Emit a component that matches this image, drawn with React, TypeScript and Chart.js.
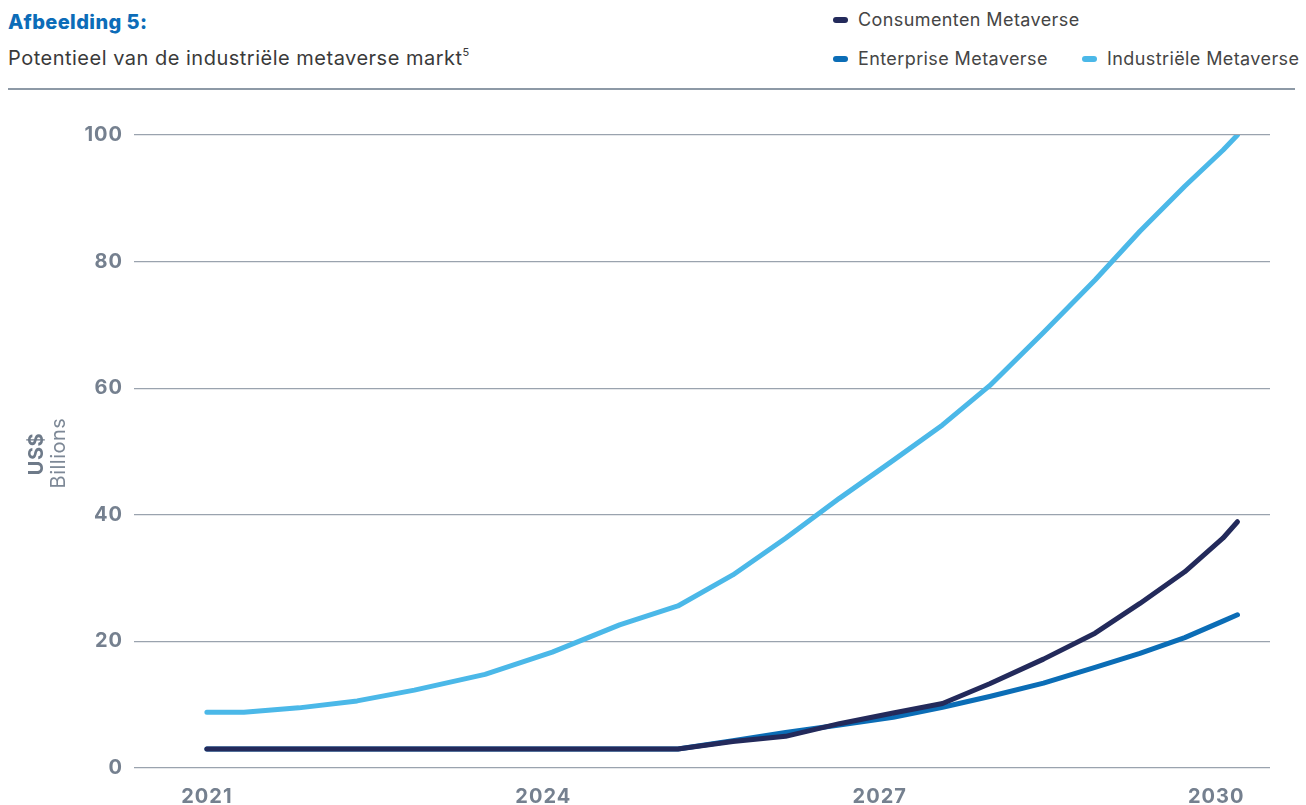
import React, { useEffect, useRef } from "react";
import { Chart, registerables } from "chart.js";

Chart.register(...registerables);

const years = [2021, 2021.33, 2021.82, 2022.34, 2022.85, 2023.48, 2024.08, 2024.68, 2025.2, 2025.69, 2026.16, 2026.64, 2027.12, 2027.56, 2027.98, 2028.46, 2028.92, 2029.32, 2029.72, 2030.06, 2030.19];
const industrial = [8.8, 8.8, 9.5, 10.6, 12.3, 14.8, 18.3, 22.6, 25.6, 30.5, 36.3, 42.6, 48.6, 54.2, 60.4, 68.8, 77.1, 84.8, 91.9, 97.6, 100];
const consumer = [3, 3, 3, 3, 3, 3, 3, 3, 3, 4.2, 5.0, 7.0, 8.7, 10.2, 13.3, 17.2, 21.3, 26.0, 31.0, 36.3, 38.9];
const enterprise = [3, 3, 3, 3, 3, 3, 3, 3, 3, 4.3, 5.6, 6.8, 8.0, 9.6, 11.3, 13.4, 15.9, 18.1, 20.6, 23.2, 24.2];
const xTicks = [2021, 2024, 2027, 2030];
const yTicks = [0, 20, 40, 60, 80, 100];

const seriesNames = ["Consumenten Metaverse", "Enterprise Metaverse", "Industriële Metaverse"];
const colors = ["#232A5B", "#0B6DB6", "#4BB8E8"];

const FONT = "Inter, 'Noto Sans', sans-serif";

export default function App() {
  const ref = useRef<HTMLCanvasElement>(null);

  useEffect(() => {
    if (!ref.current) return;
    const pts = (vals: number[]) => vals.map((v, i) => ({ x: years[i], y: v }));
    const spacing = {
      id: "spacing",
      beforeInit(chart: any) {
        chart.ctx.letterSpacing = "1px";
      },
      beforeDraw(chart: any) {
        chart.ctx.letterSpacing = "1px";
      },
    };
    const axisTitle = {
      id: "axisTitle",
      afterDraw(chart: any) {
        const ctx = chart.ctx;
        ctx.save();
        ctx.letterSpacing = "0.5px";
        ctx.translate(37, 454);
        ctx.rotate(-Math.PI / 2);
        ctx.textAlign = "center";
        ctx.textBaseline = "middle";
        ctx.fillStyle = "#6E7A89";
        ctx.font = "bold 20px " + FONT;
        ctx.fillText("US$", 0, 0);
        ctx.restore();
        ctx.save();
        ctx.letterSpacing = "0.5px";
        ctx.translate(59, 453);
        ctx.rotate(-Math.PI / 2);
        ctx.textAlign = "center";
        ctx.textBaseline = "middle";
        ctx.fillStyle = "#7D8896";
        ctx.font = "20px " + FONT;
        ctx.fillText("Billions", 0, 0);
        ctx.restore();
      },
    };
    const mk = (i: number, data: number[]) => ({
      label: seriesNames[i],
      data: pts(data),
      borderColor: colors[i],
      backgroundColor: colors[i],
      borderWidth: 5,
      borderCapStyle: "round" as const,
      borderJoinStyle: "round" as const,
      pointRadius: 0,
      tension: 0,
      fill: false,
    });
    const chart = new Chart(ref.current, {
      type: "line",
      data: {
        datasets: [mk(0, consumer), mk(1, enterprise), mk(2, industrial)],
      },
      plugins: [spacing, axisTitle],
      options: {
        responsive: false,
        animation: false,
        layout: { padding: { top: 135, right: 36, left: 0, bottom: 0 } },
        plugins: { legend: { display: false }, tooltip: { enabled: false } },
        scales: {
          x: {
            type: "linear",
            min: 2020.35,
            max: 2030.48,
            afterBuildTicks: (s: any) => {
              s.ticks = xTicks.map((v) => ({ value: v }));
            },
            afterFit: (s: any) => {
              s.height = 37;
            },
            grid: { display: false, drawTicks: false },
            border: { display: false },
            ticks: {
              padding: 17,
              color: "#75808F",
              font: { family: FONT, size: 20, weight: "bold" },
              callback: (v: any) => String(v),
              maxRotation: 0,
            },
          },
          y: {
            min: 0,
            max: 100,
            afterBuildTicks: (s: any) => {
              s.ticks = yTicks.map((v) => ({ value: v }));
            },
            afterFit: (s: any) => {
              s.width = 134;
            },
            grid: { color: "#9AA3AE", lineWidth: 1.2, drawTicks: false },
            border: { display: false },
            ticks: {
              padding: 11,
              color: "#75808F",
              font: { family: FONT, size: 20, weight: "bold" },
              callback: (v: any) => String(v),
            },
          },
        },
      },
    });
    return () => chart.destroy();
  }, []);

  const legendItem = (i: number, left: number, top: number) => (
    <div
      style={{
        position: "absolute",
        left,
        top,
        display: "flex",
        alignItems: "center",
        fontFamily: FONT,
        fontSize: 18,
        letterSpacing: 0.4,
        color: "#454545",
        whiteSpace: "nowrap",
        lineHeight: "22px",
      }}
    >
      <span
        style={{
          display: "inline-block",
          width: 15,
          height: 6,
          borderRadius: 3,
          background: colors[i],
          marginRight: 10,
        }}
      />
      {seriesNames[i]}
    </div>
  );

  return (
    <div style={{ position: "absolute", left: 0, top: 0, width: 1306, height: 805, background: "#fff", overflow: "hidden" }}>
      <div style={{ position: "absolute", left: 8, top: 10, fontFamily: FONT, fontWeight: 800, fontSize: 20, letterSpacing: 0.4, lineHeight: "24px", color: "#0C6CB8" }}>
        Afbeelding 5:
      </div>
      <div style={{ position: "absolute", left: 8, top: 46, fontFamily: FONT, fontSize: 20, letterSpacing: 0.5, lineHeight: "24px", color: "#3A3A3A" }}>
        Potentieel van de industriële metaverse markt<sup style={{ fontSize: 11, lineHeight: 0, verticalAlign: "top", position: "relative", top: 6 }}>5</sup>
      </div>
      {legendItem(0, 833, 9)}
      {legendItem(1, 833, 48)}
      {legendItem(2, 1082, 48)}
      <div style={{ position: "absolute", left: 8, top: 88, width: 1287, height: 1.5, background: "#8D99A6" }} />
      <canvas ref={ref} width={1306} height={805} style={{ position: "absolute", left: 0, top: 0 }} />
    </div>
  );
}
